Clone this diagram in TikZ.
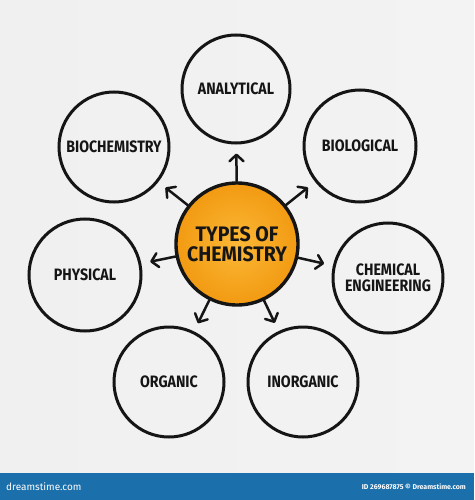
\documentclass[tikz,border=0pt]{standalone}
\usepackage{fontspec}
\setmainfont{Fira Sans}
\newfontfamily\handfont[FakeStretch=0.86]{Fira Sans}
\newfontfamily\corefont[FakeStretch=0.93]{Fira Sans}
\usetikzlibrary{arrows.meta,shadings}
\definecolor{ink}{HTML}{151515}
\definecolor{bgl}{HTML}{F0F0F0}
\definecolor{bgm}{HTML}{FBFBFB}
\definecolor{bgr}{HTML}{F3F3F3}
\definecolor{orin}{HTML}{FBB836}
\definecolor{orout}{HTML}{F29A12}
\definecolor{barblue}{HTML}{1B6FAA}
\tikzset{
  topic/.style={circle, draw=ink, line width=3pt, minimum size=#1, inner sep=0pt,
    font=\handfont\fontsize{16.5}{15.5}\selectfont\bfseries, text=ink, align=center},
  core/.style={circle, draw=ink, line width=3.4pt, minimum size=122pt, inner sep=0pt,
    inner color=orin, outer color=orout,
    font=\corefont\fontsize{21}{20}\selectfont\bfseries, text=ink, align=center},
  arr/.style={draw=ink, line width=2.5pt, line cap=round, line join=round,
    -{Straight Barb[length=6.5pt,width=14pt,line cap=round,line join=round]},
    shorten >=9pt},
  bartext/.style={text=white, inner sep=0pt}
}
\begin{document}
\begin{tikzpicture}[x=1pt,y=-1pt]
\useasboundingbox (0,0) rectangle (474,500);
\shade[left color=bgl, middle color=bgm, right color=bgr] (0,0) rectangle (474,473);

\node[core] (c) at (237,244) {TYPES OF\\CHEMISTRY};

\node[topic=108pt] (ana) at (236,89) {ANALYTICAL};
\node[topic=110pt] (bioc) at (114,147) {BIOCHEMISTRY};
\node[topic=112pt] (biol) at (360,146) {BIOLOGICAL};
\node[topic=110pt] (cheng) at (388,278) {CHEMICAL\\ENGINEERING};
\node[topic=112pt] (phys) at (85,275) {PHYSICAL};
\node[topic=110pt] (org) at (169,382) {ORGANIC};
\node[topic=110pt] (inorg) at (303,382) {INORGANIC};

\draw[arr] (c) -- (ana);
\draw[arr] (c) -- (bioc);
\draw[arr] (c) -- (biol);
\draw[arr] (c) -- (cheng);
\draw[arr] (c) -- (phys);
\draw[arr] (c) -- (org);
\draw[arr] (c) -- (inorg);

\fill[barblue] (0,473) rectangle (474,500);
\node[bartext, anchor=west, font=\fontsize{10}{10}\selectfont] (logo) at (6,486.5) {dreamstime.com};
\node[bartext, anchor=east, font=\fontsize{7}{7}\selectfont\bfseries] (credit) at (466,486.5) {ID 269687875 © Dreamstime.com};
\end{tikzpicture}
\end{document}
